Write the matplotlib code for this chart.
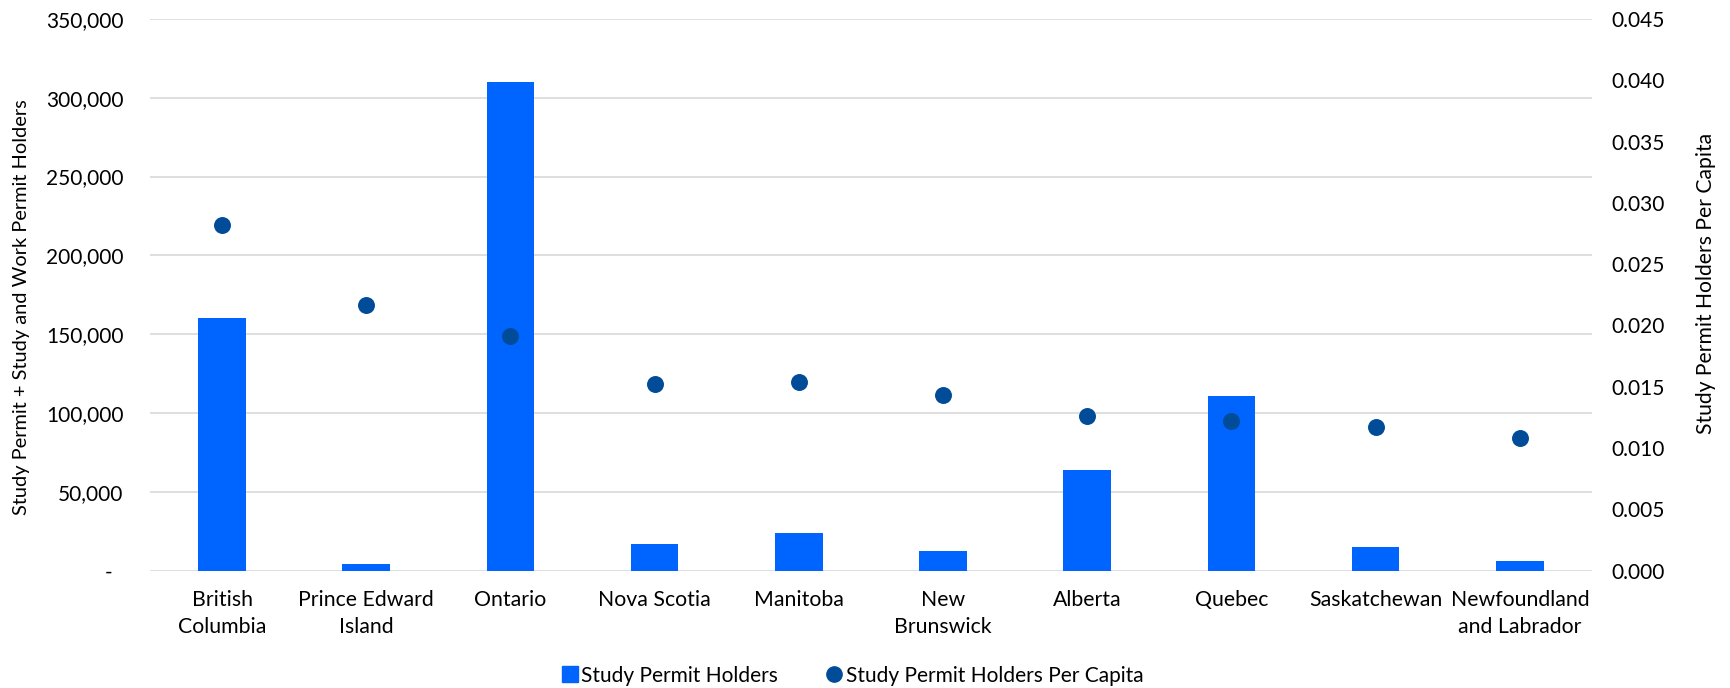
import numpy as np
import matplotlib.pyplot as plt
from matplotlib.lines import Line2D
from matplotlib.ticker import FuncFormatter

plt.rcParams['font.family'] = ['Lato', 'DejaVu Sans']

# provinces in chart order
provinces = ['British\nColumbia', 'Prince Edward\nIsland', 'Ontario', 'Nova Scotia',
             'Manitoba', 'New\nBrunswick', 'Alberta', 'Quebec', 'Saskatchewan',
             'Newfoundland\nand Labrador']

# study permit + study and work permit holders
holders = [160500, 4100, 309800, 16900, 23600, 12700, 63700, 110800, 15200, 6100]

# study permit holders per capita
per_capita = [0.0282, 0.0217, 0.0191, 0.0152, 0.0154, 0.0143, 0.0126, 0.0122, 0.0117, 0.0108]

left_ticks = np.arange(0, 350001, 50000)
right_ticks = np.arange(0, 0.0451, 0.005)

bar_color = '#0064FF'
dot_color = '#004C99'
grid_color = '#D9D9D9'

fig = plt.figure(figsize=(17.3, 6.88), dpi=100)
ax = fig.add_axes([0.0867, 0.1705, 0.8335, 0.802])
x = np.arange(len(provinces))

ax.bar(x, holders, width=0.33, color=bar_color, zorder=2)
ax.set_xlim(-0.5, len(provinces) - 0.5)
ax.set_ylim(0, 350000)
ax.set_yticks(left_ticks)
ax.yaxis.set_major_formatter(FuncFormatter(lambda v, p: '-  ' if v == 0 else f'{int(v):,}'))
ax.grid(axis='y', color=grid_color, linewidth=1.2, zorder=0)
ax.set_axisbelow(True)
ax.set_xticks(x)
ax.set_xticklabels(provinces, fontsize=15.3, linespacing=1.45)
ax.tick_params(axis='x', length=0, pad=14)
ax.tick_params(axis='y', length=0, pad=19, labelsize=15)
ax.set_ylabel('Study Permit + Study and Work Permit Holders', fontsize=14.4)
ax.yaxis.set_label_coords(-0.083, 0.478)
for s in ax.spines.values():
    s.set_visible(False)

# per capita dots on the second axis
ax2 = ax.twinx()
ax2.scatter(x, per_capita, s=125, color=dot_color, zorder=3)
ax2.set_ylim(0, 0.045)
ax2.set_yticks(right_ticks)
ax2.yaxis.set_major_formatter(FuncFormatter(lambda v, p: f'{v:.3f}'))
ax2.tick_params(axis='y', length=0, pad=14, labelsize=15)
ax2.set_ylabel('Study Permit Holders Per Capita', fontsize=15.2)
ax2.yaxis.set_label_coords(1.072, 0.52)
for s in ax2.spines.values():
    s.set_visible(False)

handles = [Line2D([], [], marker='s', linestyle='none', color=bar_color, markersize=11),
           Line2D([], [], marker='o', linestyle='none', color=dot_color, markersize=11)]
fig.legend(handles, ['Study Permit Holders', 'Study Permit Holders Per Capita'],
           loc='center', bbox_to_anchor=(0.492, 0.018), ncol=2, frameon=False,
           fontsize=15, handletextpad=0.05, columnspacing=2.2, handlelength=1.0)

fig.savefig('out.png', dpi=100)
